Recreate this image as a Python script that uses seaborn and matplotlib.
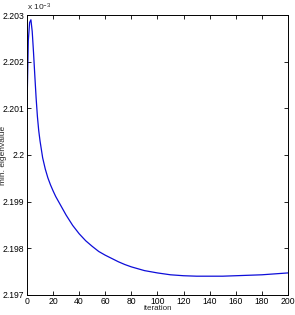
import matplotlib
matplotlib.use("Agg")
import matplotlib.pyplot as plt
import seaborn as sns
import pandas as pd
from matplotlib.ticker import FormatStrFormatter

iterations = [0, 1, 2, 3, 4, 5, 6, 7, 8, 9, 10, 12, 14, 16, 18, 20, 22, 25, 30,
              35, 40, 45, 50, 55, 60, 65, 70, 75, 80, 90, 100, 110, 120, 130,
              140, 150, 160, 170, 180, 190, 200]
min_eig = [2.20100, 2.20245, 2.20284, 2.20290, 2.20265, 2.20220, 2.20170,
           2.20122, 2.20082, 2.20052, 2.20030, 2.19994, 2.19970, 2.19951,
           2.19936, 2.19923, 2.19911, 2.19896, 2.19871, 2.19849, 2.19831,
           2.19816, 2.19804, 2.19793, 2.19785, 2.19778, 2.19771, 2.19765,
           2.19760, 2.19752, 2.19747, 2.19743, 2.19741, 2.19740, 2.19740,
           2.19740, 2.19741, 2.19742, 2.19743, 2.19745, 2.19747]
x_ticks = [0, 20, 40, 60, 80, 100, 120, 140, 160, 180, 200]
y_ticks = [2.197, 2.198, 2.199, 2.200, 2.201, 2.202, 2.203]

sns.set_style("ticks")
plt.rcParams["font.family"] = ["Liberation Sans", "DejaVu Sans"]
plt.rcParams["mathtext.fontset"] = "custom"
plt.rcParams["mathtext.rm"] = "Liberation Sans"
plt.rcParams["mathtext.it"] = "Liberation Sans"

df = pd.DataFrame({"iteration": iterations, "min. eigenvalue": min_eig})

fig = plt.figure(figsize=(2.95, 3.15), dpi=100)
ax = fig.add_axes([0.0915, 0.064, 0.8845, 0.888])
sns.lineplot(data=df, x="iteration", y="min. eigenvalue", ax=ax,
             color=(0.05, 0.05, 0.85), linewidth=0.9)

ax.set_xlim(0, 200)
ax.set_ylim(2.197, 2.203)
ax.set_xticks(x_ticks)
ax.set_yticks(y_ticks)
ax.yaxis.set_major_formatter(FormatStrFormatter("%g"))
ax.tick_params(direction="in", length=3, width=0.6, labelsize=6.2,
               top=True, right=True, colors="black")
ax.tick_params(axis="x", pad=1.2)
ax.tick_params(axis="y", pad=2)
for s in ax.spines.values():
    s.set_visible(True)
    s.set_linewidth(0.7)
    s.set_color("black")
ax.set_xlabel("iteration", fontsize=5.8)
ax.set_ylabel("min. eigenvalue", fontsize=6)
ax.xaxis.set_label_coords(0.5, -0.036)
ax.yaxis.set_label_coords(-0.078, 0.5)
ax.text(0.0, 1.008, "x 10$^{-3}$", transform=ax.transAxes, fontsize=6,
        ha="left", va="bottom")

fig.savefig("out.png", dpi=100)
